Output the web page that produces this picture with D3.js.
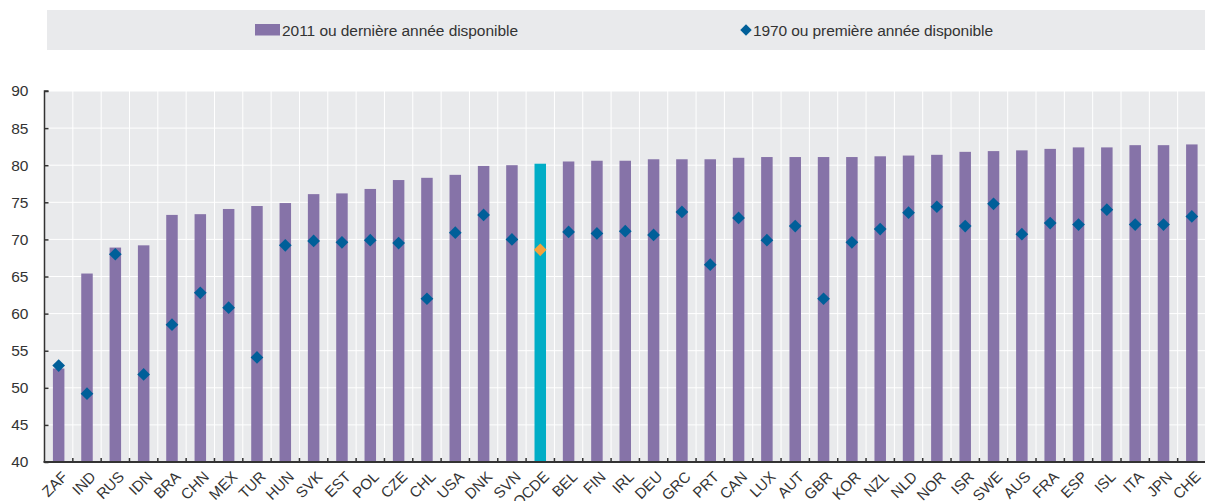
<!DOCTYPE html>
<html>
<head>
<meta charset="utf-8">
<script src="https://cdn.jsdelivr.net/npm/d3@7"></script>
<style>
  body { margin: 0; background: #fff; }
  svg { display: block; font-family: "Liberation Sans", Arial, sans-serif; }
</style>
</head>
<body>
<div id="chart"></div>
<script>
const countries = ["ZAF","IND","RUS","IDN","BRA","CHN","MEX","TUR","HUN","SVK","EST","POL","CZE","CHL","USA","DNK","SVN","OCDE","BEL","FIN","IRL","DEU","GRC","PRT","CAN","LUX","AUT","GBR","KOR","NZL","NLD","NOR","ISR","SWE","AUS","FRA","ESP","ISL","ITA","JPN","CHE"];
const latest = [52.6,65.4,68.9,69.2,73.3,73.4,74.1,74.5,74.9,76.1,76.2,76.8,78.0,78.3,78.7,79.9,80.0,80.2,80.5,80.6,80.6,80.8,80.8,80.8,81.0,81.1,81.1,81.1,81.1,81.2,81.3,81.4,81.8,81.9,82.0,82.2,82.4,82.4,82.7,82.7,82.8];
const first = [53.0,49.2,68.0,51.8,58.5,62.8,60.8,54.1,69.2,69.8,69.6,69.9,69.5,62.0,70.9,73.3,70.0,68.6,71.0,70.8,71.1,70.6,73.7,66.6,72.9,69.9,71.8,62.0,69.6,71.4,73.6,74.4,71.8,74.8,70.7,72.2,72.0,74.0,72.0,72.0,73.1];
const yTicks = [40,45,50,55,60,65,70,75,80,85,90];
const legendLabels = ["2011 ou dernière année disponible", "1970 ou première année disponible"];

const width = 1205, height = 501;
const plotL = 44.5, plotR = 1206, plotT = 91, plotB = 462;

const svg = d3.select("#chart").append("svg")
  .attr("width", width)
  .attr("height", height);

const diamond = d3.symbol(d3.symbolSquare, 81)();

// legend
svg.append("rect")
  .attr("x", 47).attr("y", 10).attr("width", 1158).attr("height", 40)
  .attr("fill", "#e9eaec");
svg.append("rect")
  .attr("x", 255).attr("y", 24).attr("width", 25).attr("height", 11.5)
  .attr("fill", "#8673a8");
svg.append("text")
  .attr("x", 282).attr("y", 36)
  .attr("font-size", 15.5)
  .attr("fill", "#333")
  .attr("textLength", 236)
  .text(legendLabels[0]);
svg.append("path")
  .attr("d", diamond)
  .attr("transform", "translate(746,30) rotate(45) scale(0.9)")
  .attr("fill", "#005f99");
svg.append("text")
  .attr("x", 753).attr("y", 36)
  .attr("font-size", 15.5)
  .attr("fill", "#333")
  .attr("textLength", 240)
  .text(legendLabels[1]);

const x = d3.scaleBand()
  .domain(countries)
  .range([plotL, plotR])
  .paddingInner(0)
  .paddingOuter(0);

const y = d3.scaleLinear()
  .domain([40, 90])
  .range([plotB, plotT]);

// plot background
svg.append("rect")
  .attr("x", plotL).attr("y", plotT)
  .attr("width", plotR - plotL).attr("height", plotB - plotT)
  .attr("fill", "#e9eaec");

// grid
svg.append("g")
  .selectAll("line")
  .data(yTicks.slice(1))
  .join("line")
  .attr("x1", plotL).attr("x2", plotR)
  .attr("y1", d => y(d)).attr("y2", d => y(d))
  .attr("stroke", "#fff").attr("stroke-width", 1);

svg.append("g")
  .selectAll("line")
  .data(countries.slice(1))
  .join("line")
  .attr("x1", d => x(d)).attr("x2", d => x(d))
  .attr("y1", plotT).attr("y2", plotB)
  .attr("stroke", "#fff").attr("stroke-width", 1);

// bars
const barW = 11.5;
svg.append("g")
  .selectAll("rect")
  .data(countries)
  .join("rect")
  .attr("x", d => x(d) + x.bandwidth() / 2 - barW / 2)
  .attr("y", (d, i) => y(latest[i]))
  .attr("width", barW)
  .attr("height", (d, i) => plotB - y(latest[i]))
  .attr("fill", d => d === "OCDE" ? "#00adc6" : "#8673a8");

// diamonds
svg.append("g")
  .selectAll("path")
  .data(countries)
  .join("path")
  .attr("d", diamond)
  .attr("transform", (d, i) => `translate(${x(d) + x.bandwidth() / 2},${y(first[i])}) rotate(45)`)
  .attr("fill", d => d === "OCDE" ? "#f5a33b" : "#005f99");

// y axis
const yAxis = svg.append("g")
  .attr("transform", `translate(${plotL},0)`)
  .call(d3.axisRight(y).tickValues(yTicks).tickSize(4).tickFormat(d3.format("d")));
yAxis.select(".domain").attr("stroke", "#333").attr("stroke-width", 1.5).attr("d", `M4,${plotT}H0V${plotB}`);
yAxis.selectAll(".tick line").attr("stroke", "#333").attr("stroke-width", 1.5);
yAxis.selectAll(".tick text")
  .attr("x", -16).attr("text-anchor", "end")
  .attr("font-size", 15.5).attr("fill", "#333")
  .attr("font-family", "Liberation Sans, Arial, sans-serif");

// x axis
svg.append("g")
  .selectAll("line")
  .data(countries.slice(1))
  .join("line")
  .attr("x1", d => x(d)).attr("x2", d => x(d))
  .attr("y1", plotB).attr("y2", plotB - 4)
  .attr("stroke", "#333").attr("stroke-width", 1.5);
svg.append("line")
  .attr("x1", plotL - 1).attr("x2", plotR)
  .attr("y1", plotB).attr("y2", plotB)
  .attr("stroke", "#333").attr("stroke-width", 2);

svg.append("g")
  .selectAll("text")
  .data(countries)
  .join("text")
  .attr("transform", d => `translate(${x(d) + x.bandwidth() / 2 + 6},${plotB + 12}) rotate(-45)`)
  .attr("text-anchor", "end")
  .attr("dy", "0.35em")
  .attr("font-size", 15)
  .attr("fill", "#333")
  .text(d => d);
</script>
</body>
</html>
